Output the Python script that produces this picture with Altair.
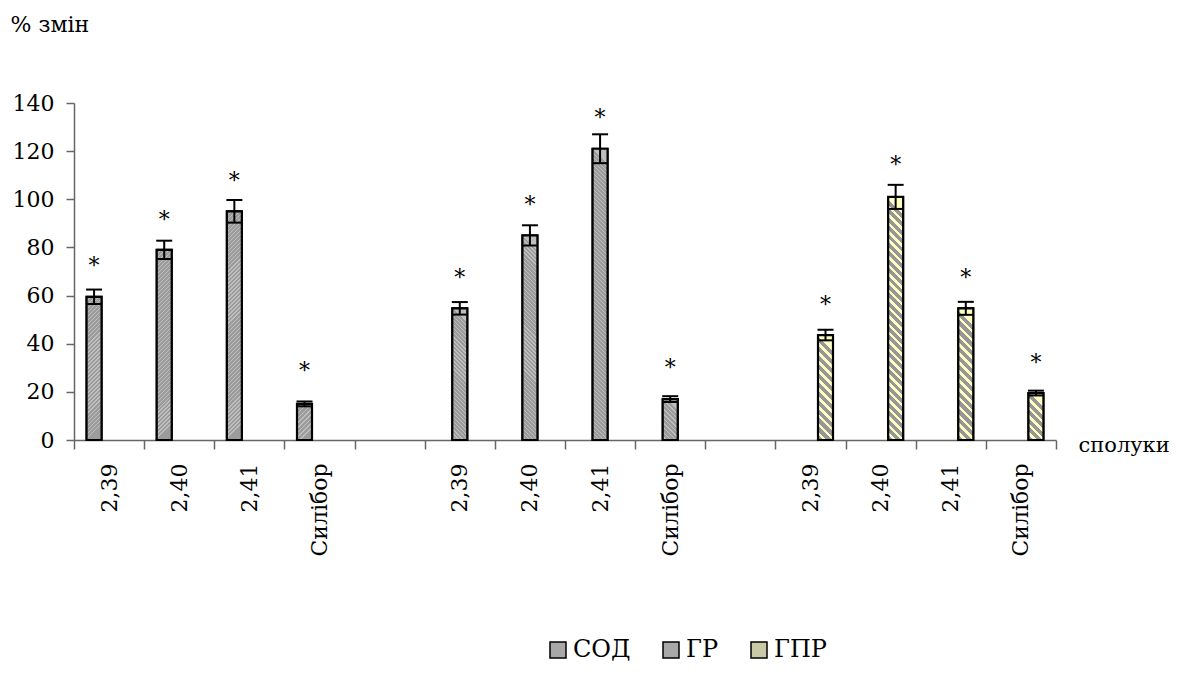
import json
import altair as alt
import pandas as pd

# ---------------- data ----------------
compounds = ["2,39", "2,40", "2,41", "Силібор"]
series = ["СОД", "ГР", "ГПР"]

sod_mean = [59.5, 79.0, 95.0, 15.0]
sod_err = [3.0, 3.8, 4.7, 1.0]
gr_mean = [54.7, 85.0, 121.0, 17.0]
gr_err = [2.6, 4.2, 6.0, 1.2]
gpr_mean = [43.6, 101.0, 54.7, 19.5]
gpr_err = [2.2, 5.0, 2.7, 1.0]

# level of the "*" significance marks
sod_star = [73.8, 93.0, 109.1, 30.3]
gr_star = [68.8, 99.3, 135.4, 31.6]
gpr_star = [57.7, 116.0, 69.0, 33.5]

y_ticks = [0, 20, 40, 60, 80, 100, 120, 140]

# ---------------- table ----------------
rows = []
groups = [(sod_mean, sod_err, sod_star), (gr_mean, gr_err, gr_star), (gpr_mean, gpr_err, gpr_star)]
for g, (means, errs, stars) in enumerate(groups):
    for i, c in enumerate(compounds):
        rows.append({
            "slot": g * 5 + i,
            "series": series[g],
            "compound": c,
            "mean": means[i],
            "lo": means[i] - errs[i],
            "hi": means[i] + errs[i],
            "star": stars[i],
        })
df = pd.DataFrame(rows)

n_slots = 14
slot_labels = []
for g in range(3):
    slot_labels += compounds
    if g < 2:
        slot_labels.append("")

W, H, YMAX = 982, 337, 140
BAR_W = 15
FONT = "DejaVu Serif"

x_scale = alt.Scale(domain=list(range(n_slots)), paddingInner=0, paddingOuter=0)
y_scale = alt.Scale(domain=[0, YMAX], nice=False, zero=True)
xo = alt.XOffset("series:N", scale=alt.Scale(domain=series, paddingInner=0, paddingOuter=0.838))

x_axis = alt.Axis(
    title="сполуки", titleX=1004, titleY=11, titleAlign="left", titleBaseline="alphabetic",
    titleFont=FONT, titleFontSize=21, titleFontWeight="normal", titleColor="black",
    labelExpr=json.dumps(slot_labels, ensure_ascii=False) + "[datum.value]",
    labelAngle=-90, labelFont=FONT, labelFontSize=22, labelColor="black", labelPadding=14,
    tickBand="extent", tickSize=9, tickColor="#666666", tickWidth=1.5,
    domainColor="#666666", domainWidth=1.5, grid=False,
)
y_axis = alt.Axis(
    values=y_ticks, title="% змін", titleAngle=0, titleX=-64, titleY=-72,
    titleAlign="left", titleBaseline="alphabetic", titleFont=FONT, titleFontSize=22,
    titleFontWeight="normal", titleColor="black",
    labelFont=FONT, labelFontSize=22, labelColor="black", labelPadding=12,
    tickSize=8, tickColor="#666666", tickWidth=1.5, domainColor="#666666", domainWidth=1.5,
    grid=False,
)


def X():
    return alt.X("slot:O", scale=x_scale, axis=x_axis)


def Y(field):
    return alt.Y(field, scale=y_scale, axis=y_axis)


base = alt.Chart(df)

bars = base.mark_bar(width=BAR_W, stroke="black", strokeWidth=2).encode(
    x=X(),
    xOffset=xo,
    y=Y("mean:Q"),
    fill=alt.Fill(
        "series:N",
        scale=alt.Scale(domain=series, range=["#A8A8A8", "#A8A8A8", "#C9C9A6"]),
        legend=alt.Legend(
            title=None, orient="none", legendX=472, legendY=535, direction="horizontal",
            symbolType="square", symbolSize=256, symbolStrokeColor="black",
            symbolStrokeWidth=1.5, labelFont=FONT, labelFontSize=24, labelColor="black",
            columnPadding=28, labelOffset=3,
        ),
    ),
)


def stripes(h_px, period, frac, bg, fg, direction):
    h_px = max(h_px, 1.0)
    n = max(1, int(round(h_px / period)))
    stops = []
    for k in range(n):
        a = k / n
        b = (k + frac) / n
        c = (k + 1) / n
        stops += [(a, fg), (b, fg), (b, bg), (c, bg)]
    r = BAR_W / h_px
    if direction == "/":
        x1, y1, x2, y2 = 0, 0, r, 1
    else:
        x1, y1, x2, y2 = r, 0, 0, 1
    return alt.LinearGradient(
        gradient="linear",
        stops=[alt.GradientStop(offset=round(o, 5), color=col) for o, col in stops],
        x1=x1, y1=y1, x2=x2, y2=y2,
    )


styles = {
    "СОД": dict(period=4.0, frac=0.35, bg="#9C9C9C", fg="#BEBEBE", direction="/"),
    "ГР": dict(period=4.0, frac=0.35, bg="#9C9C9C", fg="#BEBEBE", direction="\\"),
    "ГПР": dict(period=8.5, frac=0.42, bg="#979797", fg="#FFFFC2", direction="\\"),
}

overlays = []
for r in rows:
    h_px = r["mean"] * H / YMAX
    grad = stripes(h_px, **styles[r["series"]])
    overlays.append(
        base.transform_filter(alt.datum.slot == r["slot"])
        .mark_bar(width=BAR_W, fill=grad, stroke="black", strokeWidth=2.2)
        .encode(x=X(), xOffset=xo, y=Y("mean:Q"))
    )

err_rule = base.mark_rule(color="black", strokeWidth=2).encode(
    x=X(), xOffset=xo, y=Y("lo:Q"), y2="hi:Q",
)
cap_hi = base.mark_tick(orient="horizontal", size=16, thickness=2, color="black", opacity=1).encode(
    x=X(), xOffset=xo, y=Y("hi:Q"),
)
cap_lo = base.mark_tick(orient="horizontal", size=14, thickness=2, color="black", opacity=1).encode(
    x=X(), xOffset=xo, y=Y("lo:Q"),
)
stars = base.mark_text(text="*", font=FONT, fontSize=22, baseline="alphabetic", dy=11,
                       fill="black").encode(
    x=X(), xOffset=xo, y=Y("star:Q"),
)

chart = alt.layer(bars, *overlays, err_rule, cap_hi, cap_lo, stars).properties(
    width=W,
    height=H,
    padding={"left": 66, "top": 95, "right": 118, "bottom": 236},
    autosize=alt.AutoSizeParams(type="none"),
    background="white",
).configure_view(stroke=None)

chart.save("out.html", embed_options={"renderer": "svg", "actions": False})
